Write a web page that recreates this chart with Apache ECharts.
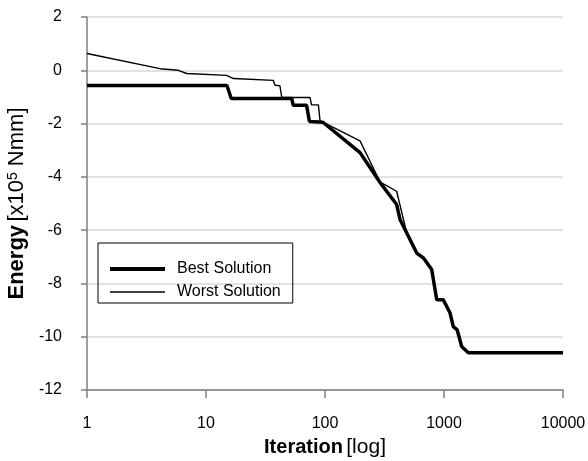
<!DOCTYPE html>
<html>
<head>
<meta charset="utf-8">
<script src="https://cdn.jsdelivr.net/npm/echarts@6/dist/echarts.min.js"></script>
<style>html,body{margin:0;padding:0;background:#fff}#c{width:588px;height:461px}</style>
</head>
<body>
<div id="c"></div>
<script>
const seriesNames = ['Best Solution', 'Worst Solution'];
const xTicks = [1, 10, 100, 1000, 10000];
const yTicks = [2, 0, -2, -4, -6, -8, -10, -12];
// [iteration, energy x10^5 Nmm]
const bestSolution = [
  [1, -0.57], [15, -0.57], [16.3, -1.06], [52.6, -1.06], [54, -1.31], [70, -1.31],
  [74, -1.92], [96, -1.95], [197, -3.09], [291, -4.22], [400, -5.04], [427, -5.6],
  [590, -6.86], [670, -7.04], [788, -7.48], [869, -8.61], [986, -8.61], [1124, -9.11],
  [1197, -9.62], [1290, -9.74], [1408, -10.37], [1600, -10.6], [10000, -10.6]
];
const worstSolution = [
  [1, 0.63], [4.1, 0.06], [5.85, 0.0], [6.9, -0.12], [14.9, -0.19], [17, -0.31],
  [36.8, -0.38], [38, -0.56], [41.8, -0.58], [43.3, -1.02], [74.8, -1.02], [77, -1.3],
  [88, -1.3], [91, -1.93], [96, -1.95], [197, -2.65], [291, -4.2], [400, -4.54],
  [486, -6.1], [590, -6.9], [670, -7.05], [788, -7.5], [869, -8.6], [986, -8.62],
  [1124, -9.12], [1197, -9.62], [1290, -9.75], [1408, -10.37], [1600, -10.6], [10000, -10.6]
];

const chart = echarts.init(document.getElementById('c'), null, {renderer: 'canvas'});
const font = '"Liberation Sans", Arial, sans-serif';
const axisGray = '#7f7f7f';
chart.setOption({
  animation: false,
  backgroundColor: '#ffffff',
  textStyle: {fontFamily: font},
  grid: {left: 87, right: 25, top: 17, bottom: 71, containLabel: false, outerBoundsMode: 'none'},
  legend: {
    data: [
      {name: seriesNames[0], lineStyle: {width: 4, color: '#000'}},
      {name: seriesNames[1], lineStyle: {width: 1.5, color: '#000'}}
    ],
    orient: 'vertical',
    left: 98, top: 243,
    padding: [18, 12, 3, 10],
    itemWidth: 55, itemHeight: 16, itemGap: 7,
    itemStyle: {opacity: 0},
    borderColor: '#000', borderWidth: 1,
    textStyle: {fontFamily: font, fontSize: 16, color: '#000', padding: [0, 0, 0, 7]}
  },
  xAxis: {
    type: 'log', logBase: 10, min: xTicks[0], max: xTicks[xTicks.length - 1],
    name: '{b|Iteration} {n|[log]}',
    nameLocation: 'middle', nameGap: 45,
    nameTextStyle: {rich: {
      b: {fontFamily: font, fontSize: 20, fontWeight: 'bold', color: '#000'},
      n: {fontFamily: font, fontSize: 21, color: '#000'}
    }},
    axisLine: {show: true, onZero: false, lineStyle: {color: axisGray, width: 1.5}},
    axisTick: {show: true, length: 8, lineStyle: {color: axisGray, width: 1.5}},
    minorTick: {show: false},
    axisLabel: {fontFamily: font, fontSize: 16, color: '#000', margin: 26,
      formatter: v => String(Math.round(v))},
    splitLine: {show: false}
  },
  yAxis: {
    type: 'value', min: yTicks[yTicks.length - 1], max: yTicks[0], interval: 2,
    name: '{b|Energy} {n|[x10}{s|5}{n| Nmm]}',
    nameLocation: 'middle', nameGap: 51, nameRotate: 90,
    nameTextStyle: {rich: {
      b: {fontFamily: font, fontSize: 22, fontWeight: 'bold', color: '#000'},
      n: {fontFamily: font, fontSize: 22, color: '#000'},
      s: {fontFamily: font, fontSize: 14, color: '#000', verticalAlign: 'top', padding: [0, 0, 6, 0]}
    }},
    axisLine: {show: true, onZero: false, lineStyle: {color: axisGray, width: 1.5}},
    axisTick: {show: true, length: 6, lineStyle: {color: axisGray, width: 1.5}},
    axisLabel: {fontFamily: font, fontSize: 16, color: '#000', margin: 25},
    splitLine: {show: true, lineStyle: {color: '#d9d9d9', width: 1.5}}
  },
  series: [
    {name: seriesNames[0], type: 'line', data: bestSolution, showSymbol: false, symbol: 'none',
     lineStyle: {color: '#000', width: 3.5}, itemStyle: {color: '#000'}, z: 3},
    {name: seriesNames[1], type: 'line', data: worstSolution, showSymbol: false, symbol: 'none',
     lineStyle: {color: '#000', width: 1.4}, itemStyle: {color: '#000'}, z: 2}
  ]
});
</script>
</body>
</html>
